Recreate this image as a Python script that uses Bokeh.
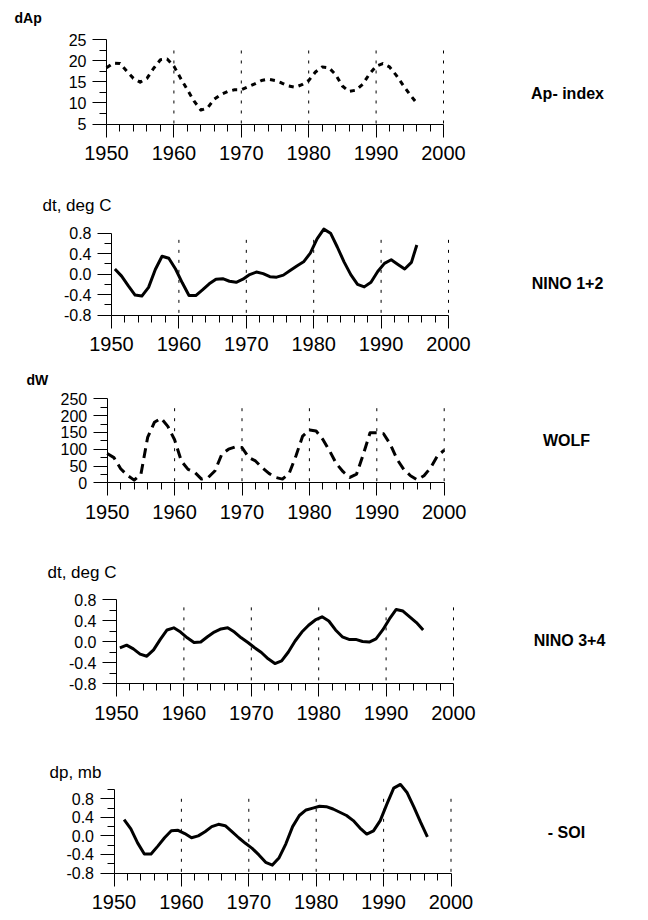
from bokeh.plotting import figure
from bokeh.layouts import column
from bokeh.models import FixedTicker, PrintfTickFormatter, Label, Range1d
from bokeh.embed import file_html
from bokeh.resources import INLINE

# ---------------- data ----------------
x_tick_labels = [1950, 1960, 1970, 1980, 1990, 2000]
x_minor = [1952, 1954, 1956, 1958, 1962, 1964, 1966, 1968, 1972, 1974, 1976, 1978,
           1982, 1984, 1986, 1988, 1992, 1994, 1996, 1998]
grid_years = [1960, 1970, 1980, 1990, 2000]

ap_years = list(range(1950, 1997))
ap_values = [18.3, 19.4, 19.3, 17.5, 15.8, 14.9, 15.8, 18.2, 20.2, 20.4,
             18.7, 15.8, 13.1, 10.4, 8.3, 8.8, 10.9, 12.0, 12.7, 13.1,
             13.1, 13.8, 14.5, 15.3, 15.6, 15.3, 14.7, 14.0, 13.7, 14.3,
             15.3, 17.3, 18.5, 18.3, 16.7, 14.0, 12.7, 13.0, 14.4, 16.8,
             18.7, 19.3, 18.5, 16.5, 14.2, 12.0, 10.0]
ap_ticks = [5, 10, 15, 20, 25]
ap_minor = [7.5, 12.5, 17.5, 22.5]

nino12_years = [1950.5, 1951.5, 1952.5, 1953.5, 1954.5, 1955.5, 1956.5, 1957.5, 1958.5, 1959.5,
                1960.5, 1961.5, 1962.5, 1963.5, 1964.5, 1965.5, 1966.5, 1967.5, 1968.5, 1969.5,
                1970.5, 1971.5, 1972.5, 1973.5, 1974.5, 1975.5, 1976.5, 1977.5, 1978.5, 1979.5,
                1980.5, 1981.5, 1982.5, 1983.5, 1984.5, 1985.5, 1986.5, 1987.5, 1988.5, 1989.5,
                1990.5, 1991.5, 1992.5, 1993.5, 1994.5, 1995.3]
nino12_values = [0.10, -0.04, -0.23, -0.41, -0.43, -0.26, 0.09, 0.35, 0.31, 0.10,
                 -0.17, -0.42, -0.42, -0.31, -0.19, -0.10, -0.09, -0.14, -0.16, -0.10,
                 -0.01, 0.04, 0.01, -0.05, -0.06, -0.02, 0.07, 0.16, 0.24, 0.41,
                 0.69, 0.88, 0.80, 0.53, 0.24, -0.01, -0.20, -0.25, -0.16, 0.05,
                 0.21, 0.28, 0.19, 0.10, 0.23, 0.57]
temp_ticks = [-0.8, -0.4, 0.0, 0.4, 0.8]
temp_minor = [-0.6, -0.2, 0.2, 0.6]

wolf_years = list(range(1950, 2001))
wolf_values = [87, 75, 42, 22, 8, 25, 135, 180, 192, 168,
               128, 65, 40, 31, 11, 16, 36, 85, 100, 107,
               105, 75, 65, 45, 28, 16, 11, 28, 80, 139,
               157, 154, 129, 95, 57, 33, 16, 26, 85, 149,
               149, 146, 115, 70, 40, 21, 9, 21, 45, 80, 97]
wolf_ticks = [0, 50, 100, 150, 200, 250]
wolf_minor = [25, 75, 125, 175, 225]

nino34_years = [1950.5, 1951.5, 1952.5, 1953.5, 1954.5, 1955.5, 1956.5, 1957.5, 1958.5, 1959.5,
                1960.5, 1961.5, 1962.5, 1963.5, 1964.5, 1965.5, 1966.5, 1967.5, 1968.5, 1969.5,
                1970.5, 1971.5, 1972.5, 1973.5, 1974.5, 1975.5, 1976.5, 1977.5, 1978.5, 1979.5,
                1980.5, 1981.5, 1982.5, 1983.5, 1984.5, 1985.5, 1986.5, 1987.5, 1988.5, 1989.5,
                1990.5, 1991.5, 1992.5, 1993.5, 1994.5, 1995.5]
nino34_values = [-0.12, -0.07, -0.14, -0.24, -0.28, -0.16, 0.04, 0.22, 0.26, 0.18,
                 0.07, -0.02, -0.01, 0.09, 0.18, 0.24, 0.26, 0.18, 0.07, -0.02,
                 -0.12, -0.21, -0.33, -0.42, -0.37, -0.20, 0.01, 0.18, 0.31, 0.41,
                 0.47, 0.39, 0.22, 0.09, 0.04, 0.04, 0.00, -0.01, 0.05, 0.22,
                 0.43, 0.61, 0.58, 0.47, 0.36, 0.22]

soi_years = [1951.5, 1952.5, 1953.5, 1954.5, 1955.5, 1956.5, 1957.5, 1958.5, 1959.5, 1960.5,
             1961.5, 1962.5, 1963.5, 1964.5, 1965.5, 1966.5, 1967.5, 1968.5, 1969.5, 1970.5,
             1971.5, 1972.5, 1973.5, 1974.5, 1975.5, 1976.5, 1977.5, 1978.5, 1979.5, 1980.5,
             1981.5, 1982.5, 1983.5, 1984.5, 1985.5, 1986.5, 1987.5, 1988.5, 1989.5, 1990.5,
             1991.5, 1992.5, 1993.5, 1994.5, 1995.5, 1996.5]
soi_values = [0.35, 0.15, -0.15, -0.39, -0.39, -0.22, -0.04, 0.11, 0.12, 0.05,
              -0.04, 0.00, 0.09, 0.20, 0.25, 0.22, 0.09, -0.04, -0.16, -0.27,
              -0.41, -0.57, -0.63, -0.47, -0.17, 0.20, 0.44, 0.56, 0.60, 0.64,
              0.63, 0.58, 0.51, 0.44, 0.33, 0.17, 0.04, 0.11, 0.33, 0.69,
              1.03, 1.11, 0.93, 0.62, 0.29, -0.02]
soi_minor = [-0.6, -0.2, 0.2, 0.6, 1.0]

# ---------------- styling / layout ----------------
FONT = "Liberation Sans"
PAGE_W = 640
PAGE_X0 = 0          # page origin (template has no body margin)
PX_PER_YEAR = 337 / 50.0

# geometry in page pixels: fl = x of 1950; y_hi/y_lo = page y of value v_hi / v_lo
panels = [
    dict(years=ap_years, values=ap_values, ticks=ap_ticks, minor=ap_minor, fmt="%d",
         ymin=5, ytop=25, v_hi=25, y_hi=39, v_lo=5, y_lo=123.5, grid_top=22.4, dash="5 5",
         fig_top=0, fig_bottom=186, fl=106, standoff=9,
         unit="dAp", unit_bold=True, unit_pos=(14, 17), name="Ap- index", name_pos=(567, 93)),
    dict(years=nino12_years, values=nino12_values, ticks=temp_ticks, minor=temp_minor, fmt="%.1f",
         ymin=-0.8, ytop=0.8, v_hi=0.8, y_hi=232.7, v_lo=-0.8, y_lo=314.5, grid_top=0.67, dash="solid",
         fig_top=186, fig_bottom=372, fl=111, standoff=9,
         unit="dt,  deg C", unit_bold=False, unit_pos=(42, 205), name="NINO 1+2", name_pos=(567, 283)),
    dict(years=wolf_years, values=wolf_values, ticks=wolf_ticks, minor=wolf_minor, fmt="%d",
         ymin=0, ytop=250, v_hi=250, y_hi=398.3, v_lo=0, y_lo=482.3, grid_top=222, dash="10 6",
         fig_top=372, fig_bottom=560, fl=106.7, standoff=9,
         unit="dW", unit_bold=True, unit_pos=(26, 379), name="WOLF", name_pos=(566, 440)),
    dict(years=nino34_years, values=nino34_values, ticks=temp_ticks, minor=temp_minor, fmt="%.1f",
         ymin=-0.8, ytop=0.8, v_hi=0.8, y_hi=599, v_lo=-0.8, y_lo=683, grid_top=0.65, dash="solid",
         fig_top=560, fig_bottom=755, fl=116, standoff=9,
         unit="dt,  deg C", unit_bold=False, unit_pos=(47, 572), name="NINO 3+4", name_pos=(569, 640)),
    dict(years=soi_years, values=soi_values, ticks=temp_ticks, minor=soi_minor, fmt="%.1f",
         ymin=-0.8, ytop=1.0, v_hi=0.8, y_hi=798.3, v_lo=-0.8, y_lo=872.5, grid_top=0.8, dash="solid",
         fig_top=755, fig_bottom=918, fl=113.5, standoff=9,
         unit="dp,  mb", unit_bold=False, unit_pos=(49, 772), name="- SOI", name_pos=(566, 832)),
]


def make_panel(c):
    h = c["fig_bottom"] - c["fig_top"]
    # data-units per pixel
    upx_x = 1.0 / PX_PER_YEAR
    upx_y = (c["v_hi"] - c["v_lo"]) / (c["y_lo"] - c["y_hi"])
    x0 = 1950 - (c["fl"] - PAGE_X0) * upx_x
    x1 = x0 + PAGE_W * upx_x
    y0 = c["v_lo"] - (c["fig_bottom"] - c["y_lo"]) * upx_y
    y1 = c["v_lo"] + (c["y_lo"] - c["fig_top"]) * upx_y

    def px_to_data(px, py):
        return x0 + (px - PAGE_X0) * upx_x, y1 - (py - c["fig_top"]) * upx_y

    p = figure(width=PAGE_W, height=h, output_backend="svg", toolbar_location=None,
               x_range=Range1d(x0, x1), y_range=Range1d(y0, y1),
               min_border=0, min_border_left=0, min_border_right=0,
               min_border_top=0, min_border_bottom=0)
    p.outline_line_color = None
    p.grid.visible = False
    p.background_fill_color = "white"
    p.border_fill_color = "white"

    xa = p.xaxis[0]
    ya = p.yaxis[0]
    xa.fixed_location = c["ymin"]
    ya.fixed_location = 1950
    xa.ticker = FixedTicker(ticks=x_tick_labels, minor_ticks=x_minor)
    xa.bounds = (1950, 2000)
    xa.major_tick_in = 0
    xa.major_tick_out = 13
    xa.minor_tick_in = 0
    xa.minor_tick_out = 7
    xa.major_label_standoff = c["standoff"]
    xa.major_label_text_font = FONT
    xa.major_label_text_font_size = "20px"
    xa.major_label_text_color = "black"
    for a in (xa, ya):
        a.axis_line_color = "black"
        a.major_tick_line_color = "black"
        a.minor_tick_line_color = "black"
        a.axis_line_width = 1

    ya.ticker = FixedTicker(ticks=c["ticks"], minor_ticks=c["minor"])
    ya.bounds = (c["ymin"], c["ytop"])
    ya.formatter = PrintfTickFormatter(format=c["fmt"])
    ya.major_tick_in = 0
    ya.major_tick_out = 14
    ya.minor_tick_in = 0
    ya.minor_tick_out = 7
    ya.major_label_standoff = 6
    ya.major_label_text_font = FONT
    ya.major_label_text_font_size = "16px"
    ya.major_label_text_color = "black"

    # dotted decade grid lines
    n = len(grid_years)
    p.segment(x0=grid_years, y0=[c["grid_top"]] * n, x1=grid_years, y1=[c["ymin"]] * n,
              line_color="black", line_width=1, line_dash="3 7")

    # data curve
    p.line(c["years"], c["values"], line_color="black", line_width=3,
           line_dash=c["dash"], line_join="round")

    # unit label (top-left) and series name (right)
    ux, uy = px_to_data(*c["unit_pos"])
    p.add_layout(Label(x=ux, y=uy, text=c["unit"], text_font=FONT,
                       text_font_style="bold" if c["unit_bold"] else "normal",
                       text_font_size="14px" if c["unit_bold"] else "17px",
                       text_baseline="middle", text_align="left", text_color="black"))
    nx, ny = px_to_data(*c["name_pos"])
    p.add_layout(Label(x=nx, y=ny, text=c["name"], text_font=FONT, text_font_style="bold",
                       text_font_size="16px", text_baseline="middle", text_align="center",
                       text_color="black"))
    return p


figs = [make_panel(c) for c in panels]
layout = column(*figs, spacing=0)
open("out.html", "w").write(file_html(layout, INLINE))
